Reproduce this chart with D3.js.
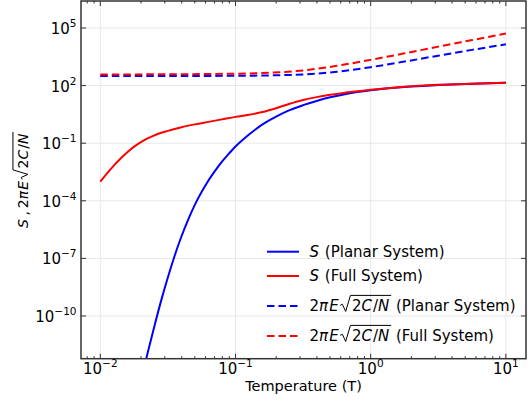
<!DOCTYPE html>
<html>
<head>
<meta charset="utf-8">
<script src="https://cdn.jsdelivr.net/npm/d3@7"></script>
<style>
  body { margin: 0; background: #fff; }
  text { font-family: "DejaVu Sans", sans-serif; fill: #000; white-space: pre; }
</style>
</head>
<body>
<div id="container"></div>
<script>
// values, stored as log10(T) and log10(value)
var logT_planar = [-1.70, -1.65, -1.60, -1.55, -1.50, -1.45, -1.40, -1.35, -1.30, -1.25, -1.20, -1.15, -1.10, -1.05, -1.00,
                   -0.95, -0.90, -0.85, -0.80, -0.70, -0.60, -0.50, -0.40, -0.30, -0.20, -0.10, 0, 0.25, 0.5, 0.75, 1.0];
var logS_planar = [-13.4, -11.93, -10.53, -9.2, -7.98, -6.86, -5.86, -4.98, -4.2, -3.53, -2.94, -2.43, -1.96, -1.55, -1.17,
                   -0.85, -0.55, -0.27, -0.02, 0.38, 0.72, 0.98, 1.20, 1.39, 1.54, 1.66, 1.76, 1.93, 2.03, 2.10, 2.15];

var logT_full = [-2.0, -1.95, -1.9, -1.85, -1.8, -1.75, -1.7, -1.65, -1.6, -1.5, -1.4, -1.3, -1.2, -1.1, -1.0,
                 -0.9, -0.8, -0.7, -0.6, -0.5, -0.4, -0.3, -0.2, -0.1, 0, 0.25, 0.5, 0.75, 1.0];
var logS_full = [-3.0, -2.57, -2.17, -1.8, -1.47, -1.18, -0.94, -0.75, -0.59, -0.36, -0.17, -0.02, 0.11, 0.24, 0.37,
                 0.48, 0.62, 0.82, 1.05, 1.25, 1.40, 1.52, 1.62, 1.70, 1.78, 1.94, 2.04, 2.10, 2.15];

var logT_bound = [-2, -1.5, -1, -0.75, -0.5, -0.25, 0, 0.25, 0.5, 0.75, 1];
var logB_planar = [2.50, 2.50, 2.51, 2.53, 2.58, 2.72, 2.96, 3.25, 3.56, 3.86, 4.15];
var logB_full = [2.58, 2.59, 2.62, 2.67, 2.79, 3.03, 3.34, 3.68, 4.03, 4.37, 4.71];

var xTicks = [1e-2, 1e-1, 1e0, 1e1];
var xTickExp = ["−2", "−1", "0", "1"];
var yTicks = [1e-10, 1e-7, 1e-4, 1e-1, 1e2, 1e5];
var yTickExp = ["−10", "−7", "−4", "−1", "2", "5"];
var legendNames = [" (Planar System)", " (Full System)", " (Planar System)", " (Full System)"];

function load() {

	var W = 529, H = 400;
	var left = 81, right = 526, top = 1, bottom = 358.7;
	var frame = "#333";

	var svg = d3.select("#container").append("svg")
		.attr("width", W)
		.attr("height", H);

	var x = d3.scaleLog()
		.domain([Math.pow(10, -2.1428), Math.pow(10, 1.1487)])
		.range([left, right]);
	var y = d3.scaleLog()
		.domain([Math.pow(10, -12.225), Math.pow(10, 6.406)])
		.range([bottom, top]);

	// grid
	svg.append("g").selectAll("line").data(xTicks).enter().append("line")
		.attr("x1", function(d) { return x(d); }).attr("x2", function(d) { return x(d); })
		.attr("y1", top).attr("y2", bottom)
		.attr("stroke", "#e8e8e8").attr("stroke-width", 1);
	svg.append("g").selectAll("line").data(yTicks).enter().append("line")
		.attr("y1", function(d) { return y(d); }).attr("y2", function(d) { return y(d); })
		.attr("x1", left).attr("x2", right)
		.attr("stroke", "#e8e8e8").attr("stroke-width", 1);

	// clip for the curves
	svg.append("clipPath").attr("id", "plotclip")
	  .append("rect")
		.attr("x", left).attr("y", top)
		.attr("width", right - left).attr("height", bottom - top);

	function pts(lt, lv) {
		return lt.map(function(t, i) { return [Math.pow(10, t), Math.pow(10, lv[i])]; });
	}

	var line = d3.line()
		.x(function(d) { return x(d[0]); })
		.y(function(d) { return y(d[1]); })
		.curve(d3.curveMonotoneX);

	var series = [
		{ data: pts(logT_planar, logS_planar), color: "#0000ff", dash: null },
		{ data: pts(logT_full, logS_full), color: "#ff0000", dash: null },
		{ data: pts(logT_bound, logB_planar), color: "#0000ff", dash: "7.5,4" },
		{ data: pts(logT_bound, logB_full), color: "#ff0000", dash: "7.5,4" }
	];

	var curves = svg.append("g").attr("clip-path", "url(#plotclip)");
	series.forEach(function(s) {
		curves.append("path")
			.datum(s.data)
			.attr("fill", "none")
			.attr("stroke", s.color)
			.attr("stroke-width", 2)
			.attr("stroke-dasharray", s.dash)
			.attr("d", line);
	});

	// frame
	svg.append("rect")
		.attr("x", left).attr("y", top)
		.attr("width", right - left).attr("height", bottom - top)
		.attr("fill", "none").attr("stroke", frame).attr("stroke-width", 1.5);

	// x ticks (major + minor), inward on bottom and top
	var minor = [];
	for (var dec = -3; dec <= 1; dec++) {
		for (var k = 2; k <= 9; k++) {
			var v = k * Math.pow(10, dec);
			if (v > x.domain()[0] && v < x.domain()[1]) minor.push(v);
		}
	}
	var ticks = svg.append("g").attr("stroke", frame).attr("stroke-width", 1);
	xTicks.forEach(function(d) {
		ticks.append("line").attr("x1", x(d)).attr("x2", x(d)).attr("y1", bottom).attr("y2", bottom - 5);
		ticks.append("line").attr("x1", x(d)).attr("x2", x(d)).attr("y1", top).attr("y2", top + 5);
	});
	minor.forEach(function(d) {
		ticks.append("line").attr("x1", x(d)).attr("x2", x(d)).attr("y1", bottom).attr("y2", bottom - 2.5);
		ticks.append("line").attr("x1", x(d)).attr("x2", x(d)).attr("y1", top).attr("y2", top + 2.5);
	});
	yTicks.forEach(function(d) {
		ticks.append("line").attr("y1", y(d)).attr("y2", y(d)).attr("x1", left).attr("x2", left + 5);
		ticks.append("line").attr("y1", y(d)).attr("y2", y(d)).attr("x1", right).attr("x2", right - 5);
	});

	// tick labels
	svg.append("g").selectAll("text").data(xTicks).enter().append("text")
		.attr("x", function(d) { return x(d); })
		.attr("y", 374)
		.attr("text-anchor", "middle")
		.style("font-size", "15px")
		.each(function(d, i) {
			var t = d3.select(this);
			t.append("tspan").text("10");
			t.append("tspan").attr("dy", -7).style("font-size", "10.5px").text(xTickExp[i]);
		});
	svg.append("g").selectAll("text").data(yTicks).enter().append("text")
		.attr("x", 76.5)
		.attr("y", function(d) { return y(d) + 6; })
		.attr("text-anchor", "end")
		.style("font-size", "15px")
		.each(function(d, i) {
			var t = d3.select(this);
			t.append("tspan").text("10");
			t.append("tspan").attr("dy", -7).style("font-size", "10.5px").text(yTickExp[i]);
		});

	// x label
	svg.append("text")
		.attr("x", (left + right) / 2).attr("y", 391)
		.attr("text-anchor", "middle")
		.style("font-size", "14.5px")
		.text("Temperature (T)");

	// writes a run of text pieces, with a drawn radical for sqrt parts
	function mathText(g, x0, base, fs, parts) {
		var cx = x0;
		parts.forEach(function(p) {
			if (p.sqrt) {
				var start = cx + fs * 0.04;
				var end = mathText(g, start + fs * 0.78, base, fs, p.sqrt);
				var hi = base - fs * 1.04;
				g.append("path")
					.attr("d", "M" + start + "," + (base - fs * 0.38) +
						"L" + (start + fs * 0.14) + "," + (base - fs * 0.45) +
						"L" + (start + fs * 0.36) + "," + (base + fs * 0.03) +
						"L" + (start + fs * 0.68) + "," + hi +
						"L" + (end + fs * 0.05) + "," + hi)
					.attr("fill", "none").attr("stroke", "#000").attr("stroke-width", 1);
				cx = end + fs * 0.05;
			} else {
				var t = g.append("text")
					.attr("x", cx).attr("y", base)
					.style("font-size", fs + "px")
					.style("font-style", p.it ? "italic" : "normal")
					.text(p.t);
				cx += t.node().getComputedTextLength() + (p.it ? fs * 0.07 : 0);
			}
		});
		return cx;
	}

	var boundParts = [{ t: "2" }, { t: "π", it: true }, { t: "E", it: true },
		{ sqrt: [{ t: "2" }, { t: "C", it: true }, { t: "/" }, { t: "N", it: true }] }];

	// y label
	var yl = svg.append("g").attr("transform", "translate(27.5,180) rotate(-90)");
	var ylIn = yl.append("g");
	var wl = mathText(ylIn, 0, 0, 14, [{ t: "S", it: true }, { t: "\u2009,\u2009" }].concat(boundParts));
	ylIn.attr("transform", "translate(" + (-wl / 2) + ",0)");

	// legend
	var rowY = [251.7, 276, 306, 336];
	var leg = svg.append("g");
	series.forEach(function(s, i) {
		leg.append("line")
			.attr("x1", 267).attr("x2", 299)
			.attr("y1", rowY[i]).attr("y2", rowY[i])
			.attr("stroke", s.color).attr("stroke-width", 2)
			.attr("stroke-dasharray", s.dash);
		var parts = i < 2 ? [{ t: "S", it: true }] : boundParts.slice();
		parts = parts.concat([{ t: legendNames[i] }]);
		mathText(leg, 309.5, rowY[i] + 5, 15, parts);
	});
}
load();
</script>
</body>
</html>
